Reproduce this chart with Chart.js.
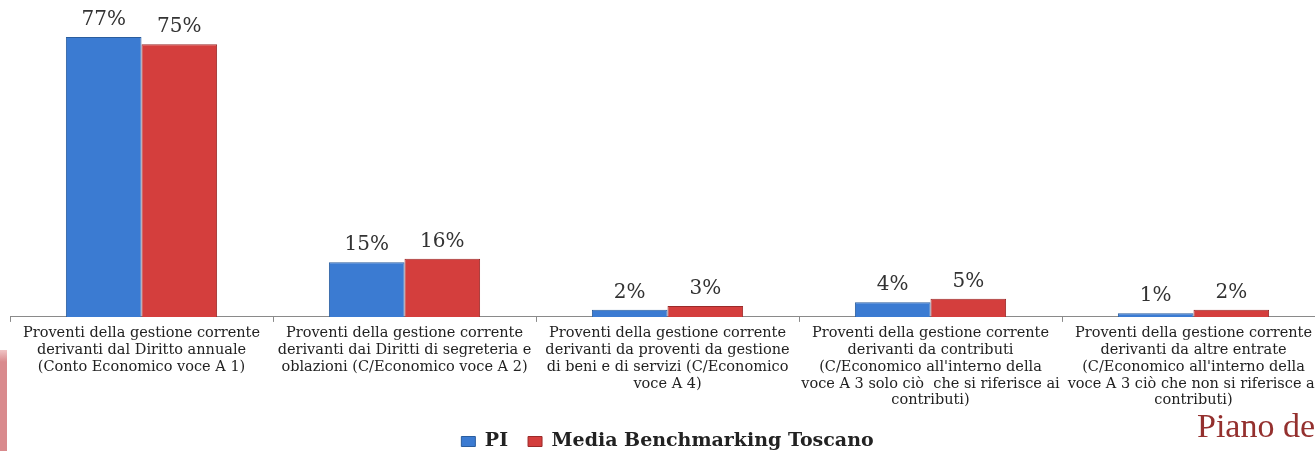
<!DOCTYPE html>
<html>
<head>
<meta charset="utf-8">
<script src="https://cdn.jsdelivr.net/npm/chart.js@4.4.1/dist/chart.umd.min.js"></script>
<style>
  body { margin: 0; background: #fff; overflow: hidden; }
  #wrap { position: relative; width: 1315px; height: 451px; overflow: hidden; }
  #chart { position: absolute; left: 0; top: 0; }
  #side { position: absolute; left: 0; top: 350px; width: 7px; height: 101px; background: linear-gradient(#f0c4c5, #d98a8d 12px); }
  #piano { position: absolute; left: 1197px; top: 409px; font-family: "Liberation Serif", serif; font-size: 34px; color: #94302e; line-height: 34px; white-space: nowrap; }
</style>
</head>
<body>
<div id="wrap">
  <canvas id="chart" width="1330" height="461"></canvas>
  <div id="side"></div>
  <div id="piano">Piano della</div>
</div>
<script>
// categories
const categories = [
  ['Proventi della gestione corrente', 'derivanti dal Diritto annuale', '(Conto Economico voce A 1)'],
  ['Proventi della gestione corrente', 'derivanti dai Diritti di segreteria e', 'oblazioni (C/Economico voce A 2)'],
  ['Proventi della gestione corrente', 'derivanti da proventi da gestione', 'di beni e di servizi (C/Economico', 'voce A 4)'],
  ['Proventi della gestione corrente', 'derivanti da contributi', "(C/Economico all'interno della", 'voce A 3 solo ciò  che si riferisce ai', 'contributi)'],
  ['Proventi della gestione corrente', 'derivanti da altre entrate', "(C/Economico all'interno della", 'voce A 3 ciò che non si riferisce ai', 'contributi)']
];
const piValues = [77, 15, 2, 4, 1];
const mediaValues = [75, 16, 3, 5, 2];
const seriesNames = ['PI', 'Media Benchmarking Toscano'];

// value labels above bars
const valueLabels = {
  id: 'valueLabels',
  afterDatasetsDraw(chart) {
    const ctx = chart.ctx;
    ctx.save();
    ctx.font = '20px "DejaVu Serif", serif';
    ctx.fillStyle = '#333';
    ctx.textAlign = 'center';
    ctx.textBaseline = 'alphabetic';
    chart.data.datasets.forEach((ds, i) => {
      chart.getDatasetMeta(i).data.forEach((bar, j) => {
        ctx.fillText(ds.data[j] + '%', bar.x, bar.y - 12);
      });
    });
    ctx.restore();
  }
};

new Chart(document.getElementById('chart'), {
  type: 'bar',
  data: {
    labels: categories,
    datasets: [
      { label: seriesNames[0], data: piValues, backgroundColor: '#3b7bd2', borderColor: '#2a5d9e', borderWidth: 1, borderSkipped: 'bottom' },
      { label: seriesNames[1], data: mediaValues, backgroundColor: '#d43e3d', borderColor: '#9b2a29', borderWidth: 1, borderSkipped: 'bottom' }
    ]
  },
  options: {
    responsive: false,
    animation: false,
    layout: { padding: { top: 26, left: 10, right: 5, bottom: 0 } },
    datasets: { bar: { categoryPercentage: 0.575, barPercentage: 1 } },
    scales: {
      y: { display: false, min: 0, max: 80 },
      x: {
        grid: { offset: true, drawOnChartArea: false, tickLength: 5, color: '#8a8a8a' },
        border: { color: '#8a8a8a' },
        ticks: {
          maxRotation: 0, autoSkip: false, padding: 3,
          color: '#222',
          font: { family: '"DejaVu Serif", serif', size: 14.5, lineHeight: 1.16 }
        }
      }
    },
    plugins: {
      tooltip: { enabled: false },
      legend: {
        position: 'bottom',
        labels: {
          boxWidth: 14, boxHeight: 10, padding: 20,
          color: '#222',
          font: { family: '"DejaVu Serif", serif', size: 19, weight: 'bold' }
        }
      }
    }
  },
  plugins: [valueLabels]
});
</script>
</body>
</html>
